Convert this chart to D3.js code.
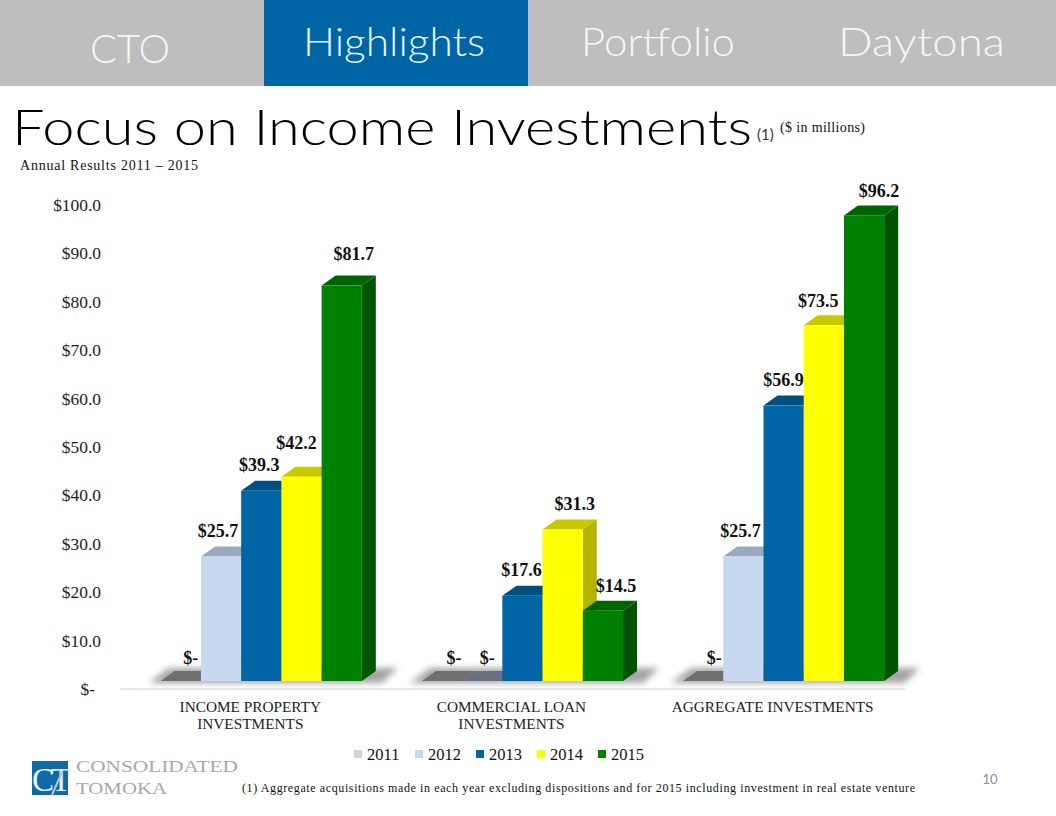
<!DOCTYPE html>
<html><head><meta charset="utf-8">
<script src="https://cdnjs.cloudflare.com/ajax/libs/d3/7.8.5/d3.min.js"></script>
<style>html,body{margin:0;padding:0;background:#fff}svg{display:block}</style>
</head><body><svg id="c" width="1056" height="816"></svg>
<script>
const categories = [["INCOME PROPERTY","INVESTMENTS"],["COMMERCIAL LOAN","INVESTMENTS"],["AGGREGATE INVESTMENTS"]];
const years = ["2011","2012","2013","2014","2015"];
const v2011 = [0,0,0];
const v2012 = [25.7,0,25.7];
const v2013 = [39.3,17.6,56.9];
const v2014 = [42.2,31.3,73.5];
const v2015 = [81.7,14.5,96.2];
const seriesValues = [v2011,v2012,v2013,v2014,v2015];
const tickValues = [0,10,20,30,40,50,60,70,80,90,100];
const navItems = ["CTO","Highlights","Portfolio","Daytona"];
const front = ["#6f6f6f","#c6d9f1","#0065a4","#ffff00","#008000"];
const topFace = ["#6f6f6f","#98a9c0","#004f82","#c8c800","#006400"];
const sideFace = ["#555555","#8fa0b6","#00466f","#b4b400","#005400"];
const FONT_SERIF = "'Liberation Serif',serif", FONT_SANS = "Lato,sans-serif";

const svg = d3.select("#c");
const defs = svg.append("defs");
defs.append("filter").attr("id","soft").attr("x","-20%").attr("y","-100%").attr("width","140%").attr("height","300%")
  .append("feGaussianBlur").attr("stdDeviation",3);

// header
const nav = d3.scaleBand().domain(navItems).range([0,1056]);
svg.append("rect").attr("width",1056).attr("height",86).attr("fill","#bebebe");
svg.append("rect").attr("x",nav("Highlights")).attr("width",nav.bandwidth()).attr("height",86).attr("fill","#0065a4");
const navLayout = {CTO:[90,80,63],Highlights:[303,182,56],Portfolio:[581,154,56],Daytona:[838,167,56]};
svg.selectAll(".nav").data(navItems).join("text").attr("class","nav")
  .attr("x",d=>navLayout[d][0]).attr("y",d=>navLayout[d][2])
  .attr("textLength",d=>navLayout[d][1]).attr("lengthAdjust","spacingAndGlyphs")
  .attr("font-family",FONT_SANS).attr("font-size",39).attr("font-weight",300).attr("fill",d=>d==="Highlights"?"#e6f6fb":"#f6f6f6")
  .text(d=>d);

// titles
svg.append("text").attr("x",12).attr("y",145).attr("font-family",FONT_SANS).attr("font-weight",300).attr("font-size",49)
  .attr("fill","#000").attr("textLength",740).attr("lengthAdjust","spacingAndGlyphs").text("Focus on Income Investments");
svg.append("text").attr("x",757).attr("y",140).attr("font-family",FONT_SANS).attr("font-weight",400).attr("font-size",15).attr("fill","#333").text("(1)");
svg.append("text").attr("x",780).attr("y",132).attr("font-family",FONT_SERIF).attr("font-size",14).attr("fill","#111").attr("textLength",85).text("($ in millions)");
svg.append("text").attr("x",20).attr("y",170).attr("font-family",FONT_SERIF).attr("font-size",14).attr("fill","#111").attr("textLength",178).text("Annual Results 2011 – 2015");

// scales
const catKeys = categories.map((d,i)=>i);
const x0 = d3.scaleBand().domain(catKeys).range([130.7,914.2]).paddingInner(0.23).paddingOuter(0.115);
const x1 = d3.scaleBand().domain(years).range([0,x0.bandwidth()]);
const y = d3.scaleLinear().domain([0,100]).range([681,197]);
const DX = 14, DY = -10, AXIS_DROP = 8;

// axis
const axis = d3.axisLeft(y).tickValues(tickValues).tickSize(0).tickPadding(0)
  .tickFormat(d=>d===0?"$-":"$"+d.toFixed(1));
const ax = svg.append("g").attr("transform",`translate(101,${AXIS_DROP})`).call(axis);
ax.select(".domain").remove();
ax.selectAll("text").attr("font-family",FONT_SERIF).attr("font-size",17.4).attr("fill","#222")
  .attr("dx",d=>d===0?-6:0);

// baseline
svg.append("line").attr("x1",120).attr("x2",905).attr("y1",y(0)+AXIS_DROP).attr("y2",y(0)+AXIS_DROP).attr("stroke","#d9e2ef").attr("stroke-width",1.5);

// groups
const groups = svg.selectAll(".grp").data(catKeys).join("g").attr("class","grp").attr("transform",c=>`translate(${x0(c)},0)`);
// soft floor shadow
groups.append("path").attr("filter","url(#soft)").attr("fill","#a4a4a4")
  .attr("d",()=>{const w=x0.bandwidth();const b=y(0);return `M-12,${b+2}L${DX-6},${b+DY-3}L${w+DX+22},${b+DY-3}L${w+DX+6},${b+2}Z`;});

groups.each(function(c){
  const g = d3.select(this);
  years.forEach((yr,s)=>{
    const v = seriesValues[s][c], x = x1(yr), w = x1.bandwidth(), t = y(v), b = y(0);
    const zeroFill = (c===1 && s===1) ? "#68707f" : topFace[s];
    g.append("path").attr("fill",sideFace[s]).attr("d",`M${x+w},${t}L${x+w+DX},${t+DY}L${x+w+DX},${b+DY}L${x+w},${b}Z`).attr("display",v>0?null:"none");
    g.append("path").attr("fill",zeroFill).attr("d",`M${x},${t}L${x+DX},${t+DY}L${x+w+DX},${t+DY}L${x+w},${t}Z`);
    if(v>0) g.append("rect").attr("x",x).attr("y",t).attr("width",w).attr("height",b-t).attr("fill",front[s]);
  });
});

// data labels: offsets from the bar centre / bar top, keyed by "category-series", pixels
const labelNudge = {"0-0":[10,0],"0-1":[-3,0],"0-2":[-2,0],"0-3":[-5,-8],"0-4":[12,-6],
                    "1-0":[12,0],"1-1":[5,0],"1-2":[-1,0],"1-3":[12,0],"1-4":[13,1],
                    "2-0":[11,0],"2-1":[-3,0],"2-2":[0,0],"2-3":[-5.5,2],"2-4":[15,2]};
groups.each(function(c){
  const g = d3.select(this);
  years.forEach((yr,s)=>{
    const v = seriesValues[s][c];
    const n = labelNudge[c+"-"+s];
    g.append("text").attr("x",x1(yr)+x1.bandwidth()/2+n[0]).attr("y",y(v)+(v>0?-20:-17)+n[1])
      .attr("text-anchor","middle").attr("font-family",FONT_SERIF).attr("font-weight",700).attr("font-size",18).attr("fill","#111")
      .text(v>0?"$"+v.toFixed(1):"$-");
  });
});

// category labels
groups.each(function(c){
  d3.select(this).selectAll(".cat").data(categories[c]).join("text").attr("class","cat")
    .attr("x",x0.bandwidth()/2-11).attr("y",(d,j)=>712+j*17).attr("text-anchor","middle")
    .attr("font-family",FONT_SERIF).attr("font-size",15.3).attr("fill","#222").text(d=>d);
});

// legend
const legX = d3.scalePoint().domain(years).range([354,598]);
const leg = svg.selectAll(".leg").data(years).join("g").attr("class","leg").attr("transform",d=>`translate(${legX(d)},754)`);
leg.append("rect").attr("y",-4).attr("width",8).attr("height",8).attr("fill",(d,i)=>i===0?"#d4d4d4":front[i]);
leg.append("text").attr("x",13).attr("y",6).attr("font-family",FONT_SERIF).attr("font-size",16.5).attr("fill","#111").text(d=>d);

// logo
svg.append("rect").attr("x",32).attr("y",761).attr("width",36).attr("height",34).attr("fill","#0f6aa8");
svg.append("text").attr("x",50).attr("y",791).attr("text-anchor","middle").attr("font-family",FONT_SERIF).attr("font-size",33).attr("fill","#e8f1f7").attr("letter-spacing",-3).text("CT");
svg.append("line").attr("x1",62).attr("y1",772).attr("x2",52).attr("y2",795).attr("stroke","#b9c3cc").attr("stroke-width",2);
svg.append("text").attr("x",76).attr("y",772).attr("font-family",FONT_SERIF).attr("font-size",17).attr("fill","#a8a8a8").attr("textLength",162).attr("lengthAdjust","spacingAndGlyphs").text("CONSOLIDATED");
svg.append("text").attr("x",76).attr("y",794).attr("font-family",FONT_SERIF).attr("font-size",17).attr("fill","#a8a8a8").attr("textLength",91).attr("lengthAdjust","spacingAndGlyphs").text("TOMOKA");

// footnote, page
svg.append("text").attr("x",242).attr("y",792).attr("font-family",FONT_SERIF).attr("font-size",12).attr("fill","#111").attr("textLength",673)
  .text("(1)   Aggregate acquisitions made in each year excluding dispositions and for 2015 including investment in real estate venture");
svg.append("text").attr("x",990).attr("y",784).attr("text-anchor","middle").attr("font-family",FONT_SANS).attr("font-size",13).attr("fill","#7f8fa6").text("10");
</script></body></html>
